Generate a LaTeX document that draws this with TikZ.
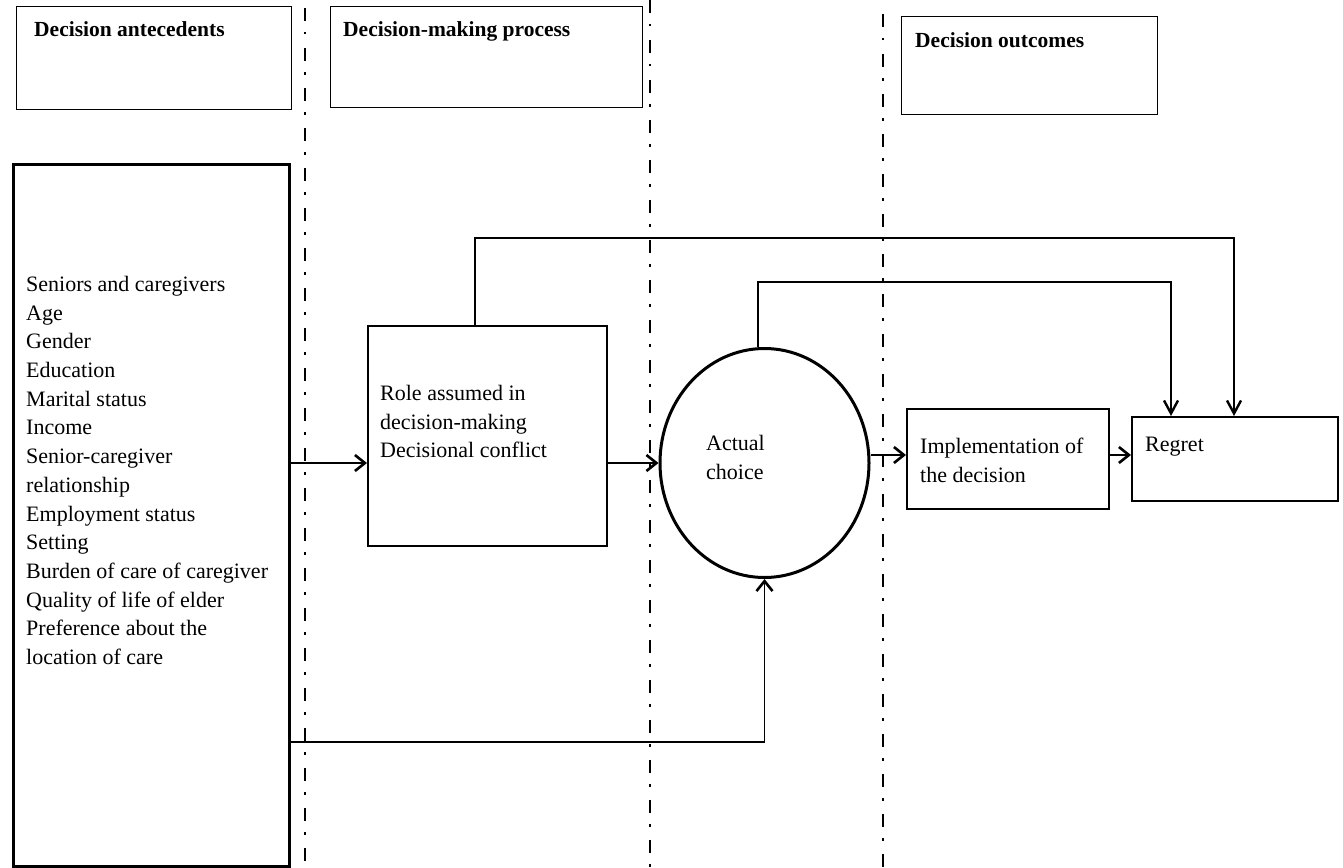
\documentclass[tikz,border=0pt]{standalone}
\usepackage{fontspec}
\setmainfont{Liberation Serif}
\usetikzlibrary{arrows.meta,shapes.geometric}
\begin{document}
\begin{tikzpicture}[x=1pt,y=-1pt,
  hdrbox/.style={draw, line width=1pt, anchor=north west, inner sep=0pt},
  hdrtext/.style={anchor=base west, inner sep=0pt, font=\bfseries\fontsize{21.5}{25}\selectfont},
  mainbox/.style={draw, line width=2pt, anchor=north west, inner sep=0pt},
  bodytext/.style={anchor=north west, inner sep=0pt, align=left, font=\fontsize{22}{28.7}\selectfont},
  sep/.style={line width=1.4pt, dash pattern=on 13pt off 11pt on 2.5pt off 13.5pt},
  conn/.style={line width=1.4pt, -{Straight Barb[length=10pt,width=16pt,line width=2.6pt]}},
  topconn/.style={line width=1.1pt, -{Straight Barb[length=13pt,width=14pt,line width=2.4pt]}}
]
\useasboundingbox (0,0) rectangle (1343,867);

% separators
\draw[sep] (305,8) -- (305,867);
\draw[sep] (650,0) -- (650,867);
\draw[sep] (883,14) -- (883,867);

% header boxes
\node[hdrbox, minimum width=275pt, minimum height=103pt] (h1) at (16,6) {};
\node[hdrbox, minimum width=312pt, minimum height=101pt] (h2) at (330,6) {};
\node[hdrbox, minimum width=256pt, minimum height=98pt] (h3) at (901,16) {};
\node[hdrtext] (h1t) at (34,37) {Decision antecedents};
\node[hdrtext] (h2t) at (343,37) {Decision-making process};
\node[hdrtext] (h3t) at (915,48) {Decision outcomes};

% big antecedents box
\node[mainbox, line width=2.5pt, minimum width=276pt, minimum height=702pt] (bb) at (12,163) {};
\node[bodytext] (bbt) at (26,276) {Seniors and caregivers\\Age\\Gender\\Education\\Marital status\\Income\\Senior-caregiver\\relationship\\Employment status\\Setting\\Burden of care of caregiver\\Quality of life of elder\\Preference about the\\location of care};

% role box
\node[mainbox, minimum width=239pt, minimum height=220pt] (rb) at (367,325) {};
\node[bodytext] (rbt) at (380,385) {Role assumed in\\decision-making\\Decisional conflict};

% actual choice circle
\node[draw, ellipse, line width=3pt, minimum width=209pt, minimum height=229pt, inner sep=0pt] (c) at (764.5,463) {};
\node[bodytext] (ct) at (706,435) {Actual\\choice};

% implementation box
\node[mainbox, minimum width=202pt, minimum height=100pt] (ib) at (906,408) {};
\node[bodytext] (ibt) at (920,438) {Implementation of\\the decision};

% regret box
\node[mainbox, minimum width=206pt, minimum height=84pt] (rg) at (1131,416) {};
\node[bodytext] (rgt) at (1145,437) {Regret};

% connectors
\draw[conn] (bb.east |- c.west) -- (rb.west |- c.west);
\draw[conn] (rb.east |- c.west) -- (c.west);
\draw[conn] (c.east |- 0,455) -- (ib.west |- 0,455);
\draw[conn] (ib.east |- 0,455) -- (rg.west |- 0,455);

\draw[topconn] ([xshift=108pt]rb.north west) -- ++(0,-87) -| ([xshift=103pt]rg.north west);
\draw[topconn] ([xshift=-6.5pt]c.north) -- ++(0,-65) -| ([xshift=40pt]rg.north west);

\coordinate (corner) at (c.south |- 0,742);
\draw[line width=2.5pt] (bb.east |- 0,742) -- (corner);
\draw[conn] (corner) -- (c.south);
\end{tikzpicture}
\end{document}
